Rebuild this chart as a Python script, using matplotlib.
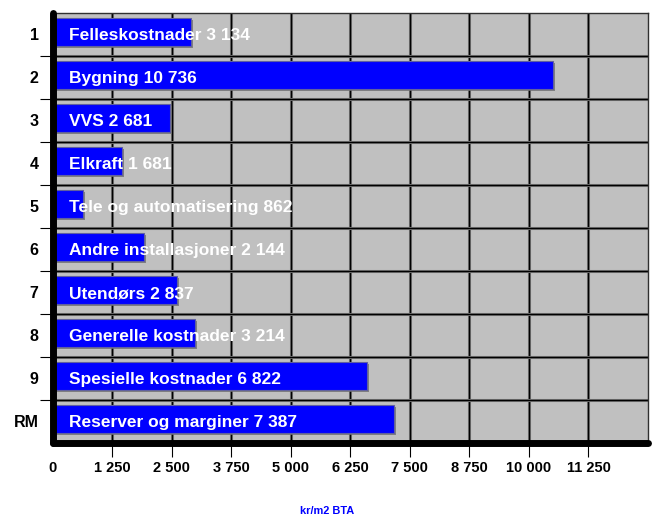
import numpy as np
import matplotlib
matplotlib.use('Agg')
import matplotlib.pyplot as plt
import matplotlib.patheffects as pe

plt.rcParams['font.family'] = ['Liberation Sans', 'DejaVu Sans']
plt.rcParams['font.weight'] = 'bold'

# data
rows = ['1', '2', '3', '4', '5', '6', '7', '8', '9', 'RM']
names = ['Felleskostnader', 'Bygning', 'VVS', 'Elkraft', 'Tele og automatisering',
         'Andre installasjoner', 'Utendørs', 'Generelle kostnader',
         'Spesielle kostnader', 'Reserver og marginer']
values = [3134, 10736, 2681, 1681, 862, 2144, 2837, 3214, 6822, 7387]
xticks = np.arange(0, 11251, 1250)

def fmt(v):
    return '{:,}'.format(v).replace(',', ' ')

fig = plt.figure(figsize=(6.53, 5.25), dpi=100)
ax = fig.add_axes([52.5/653, 82/525, 595.5/653, 430/525])
ax.set_facecolor('#C0C0C0')

y = np.arange(len(rows))
# bars in the original are drawn from a slightly shifted origin
origin = -222
ax.barh(y - 0.06, values, left=origin, height=0.67, color='#0000FF',
        edgecolor='#6060A0', linewidth=0.8, zorder=3,
        path_effects=[pe.SimplePatchShadow(offset=(1.5, -1.5), shadow_rgbFace='#707070', alpha=0.8),
                      pe.Normal()])

for i in range(len(rows)):
    ax.annotate('%s %s' % (names[i], fmt(values[i])), xy=(0, y[i]), xytext=(12, -1),
                textcoords='offset points', va='center', ha='left',
                color='white', fontsize=12.5, fontweight='bold', zorder=5)

ax.set_xlim(0, 12500)
ax.set_ylim(len(rows) - 0.5, -0.5)

ax.set_xticks(xticks)
ax.set_xticklabels([fmt(v) for v in xticks])
ax.tick_params(axis='x', length=10, width=0.8, pad=3, labelsize=10.5)
ax.xaxis.get_major_ticks()[0].tick1line.set_visible(False)

ax.set_yticks(np.arange(0.5, len(rows) - 1))
ax.set_yticklabels([])
ax.set_yticks(y, minor=True)
ax.set_yticklabels(rows, minor=True, fontsize=11.5, fontweight='bold')
ax.tick_params(axis='y', which='major', length=9.7, width=0.8)
ax.tick_params(axis='y', which='minor', length=0, pad=10)

ax.grid(True, which='major', color='black', linewidth=0.9, zorder=1,
        path_effects=[pe.withStroke(linewidth=2.2, foreground='#707070')])
ax.set_axisbelow(True)

for s in ['left', 'bottom']:
    ax.spines[s].set_linewidth(5)
    ax.spines[s].set_capstyle('round')
    ax.spines[s].set_zorder(6)
for s in ['top', 'right']:
    ax.spines[s].set_linewidth(1)
    ax.spines[s].set_color('#303030')

fig.text(327/653, 1 - 511/525, 'kr/m2 BTA', color='#0000FF', fontsize=7.9,
         fontweight='bold', ha='center', va='center')

fig.savefig('out.png', dpi=100)
